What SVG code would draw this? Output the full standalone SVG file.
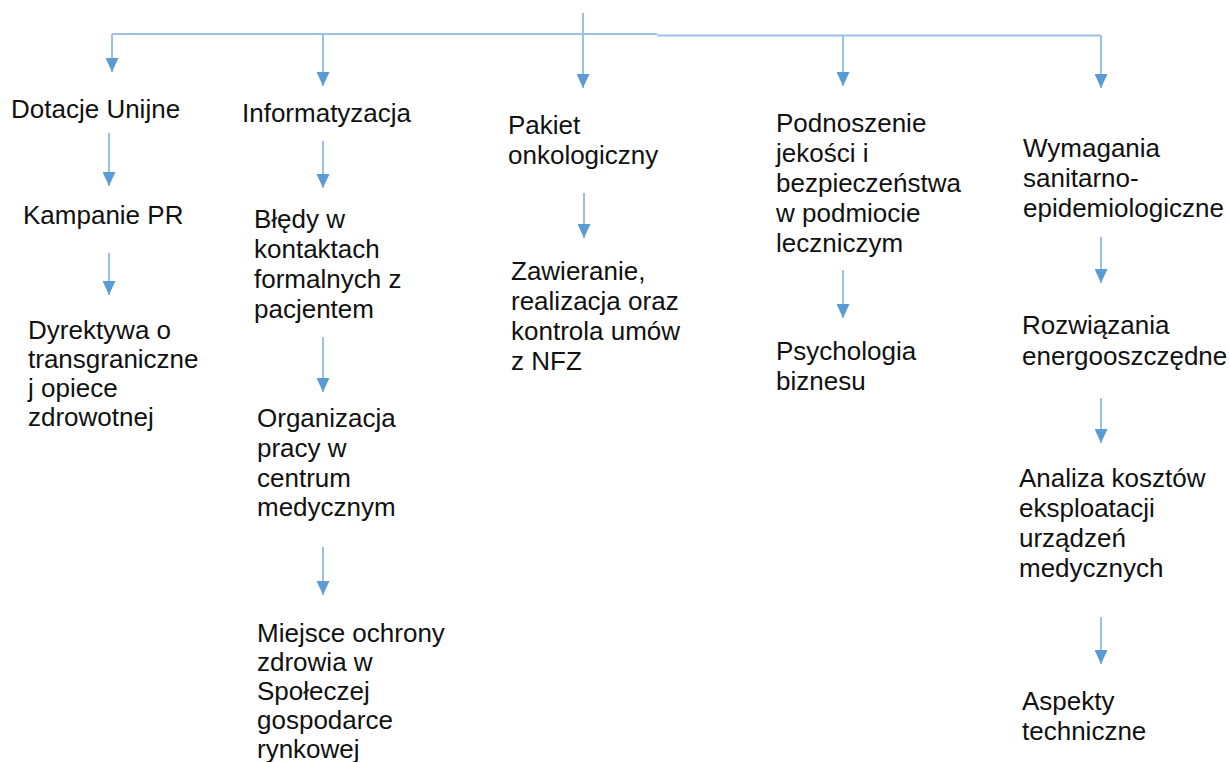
<svg xmlns="http://www.w3.org/2000/svg" width="1230" height="762" viewBox="0 0 1230 762">
<style>
text{font-family:"Liberation Sans",Arial,sans-serif;font-size:26px;fill:#111;}
.c{stroke:#9cc0e8;stroke-width:2;fill:none;}
</style>
<defs>
<marker id="ah" markerUnits="userSpaceOnUse" markerWidth="14" markerHeight="13" refX="14" refY="6.5" orient="auto">
<path d="M0,0 L14,6.5 L0,13 z" fill="#5b9bd5"/>
</marker>
</defs>
<rect width="1230" height="762" fill="#fff"/>
<g id="connectors">
<path class="c" d="M583,13 V34"/>
<path class="c" d="M112,34 H657 M657,35.5 H1101"/>
<path class="c" d="M112,34 V72" marker-end="url(#ah)"/>
<path class="c" d="M323,34 V86" marker-end="url(#ah)"/>
<path class="c" d="M583,34 V88" marker-end="url(#ah)"/>
<path class="c" d="M843,35.5 V86" marker-end="url(#ah)"/>
<path class="c" d="M1101,35.5 V88" marker-end="url(#ah)"/>
<path class="c" d="M109,133 V186" marker-end="url(#ah)"/>
<path class="c" d="M109,253 V295" marker-end="url(#ah)"/>
<path class="c" d="M323,141 V188" marker-end="url(#ah)"/>
<path class="c" d="M323,337 V392" marker-end="url(#ah)"/>
<path class="c" d="M323,547 V595" marker-end="url(#ah)"/>
<path class="c" d="M584,193 V238" marker-end="url(#ah)"/>
<path class="c" d="M843,270 V318" marker-end="url(#ah)"/>
<path class="c" d="M1101,237 V283" marker-end="url(#ah)"/>
<path class="c" d="M1101,398 V443" marker-end="url(#ah)"/>
<path class="c" d="M1101,617 V664" marker-end="url(#ah)"/>
</g>
<g id="n-dotacje"><text x="11" y="118">Dotacje Unijne</text></g>
<g id="n-kampanie"><text x="23" y="224">Kampanie PR</text></g>
<g id="n-dyrektywa"><text x="28" y="339">Dyrektywa o</text><text x="28" y="368">transgraniczne</text><text x="28" y="397">j opiece</text><text x="28" y="426">zdrowotnej</text></g>
<g id="n-informatyzacja"><text x="242" y="122">Informatyzacja</text></g>
<g id="n-bledy"><text x="254" y="228">Błędy w</text><text x="254" y="258">kontaktach</text><text x="254" y="288">formalnych z</text><text x="254" y="318">pacjentem</text></g>
<g id="n-organizacja"><text x="257" y="427">Organizacja</text><text x="257" y="457">pracy w</text><text x="257" y="487">centrum</text><text x="257" y="516">medycznym</text></g>
<g id="n-miejsce"><text x="257" y="642">Miejsce ochrony</text><text x="257" y="671">zdrowia w</text><text x="257" y="700">Społeczej</text><text x="257" y="729">gospodarce</text><text x="257" y="758">rynkowej</text></g>
<g id="n-pakiet"><text x="508" y="134">Pakiet</text><text x="508" y="164">onkologiczny</text></g>
<g id="n-zawieranie"><text x="511" y="280">Zawieranie,</text><text x="511" y="310">realizacja oraz</text><text x="511" y="340">kontrola umów</text><text x="511" y="370">z NFZ</text></g>
<g id="n-podnoszenie"><text x="776" y="132">Podnoszenie</text><text x="776" y="162">jekości i</text><text x="776" y="192">bezpieczeństwa</text><text x="776" y="222">w podmiocie</text><text x="776" y="252">leczniczym</text></g>
<g id="n-psychologia"><text x="776" y="360">Psychologia</text><text x="776" y="390">biznesu</text></g>
<g id="n-wymagania"><text x="1023" y="157">Wymagania</text><text x="1023" y="187">sanitarno-</text><text x="1023" y="217">epidemiologiczne</text></g>
<g id="n-rozwiazania"><text x="1022" y="334">Rozwiązania</text><text x="1022" y="365">energooszczędne</text></g>
<g id="n-analiza"><text x="1019" y="487">Analiza kosztów</text><text x="1019" y="517">eksploatacji</text><text x="1019" y="547">urządzeń</text><text x="1019" y="577">medycznych</text></g>
<g id="n-aspekty"><text x="1022" y="710">Aspekty</text><text x="1022" y="740">techniczne</text></g>
</svg>
